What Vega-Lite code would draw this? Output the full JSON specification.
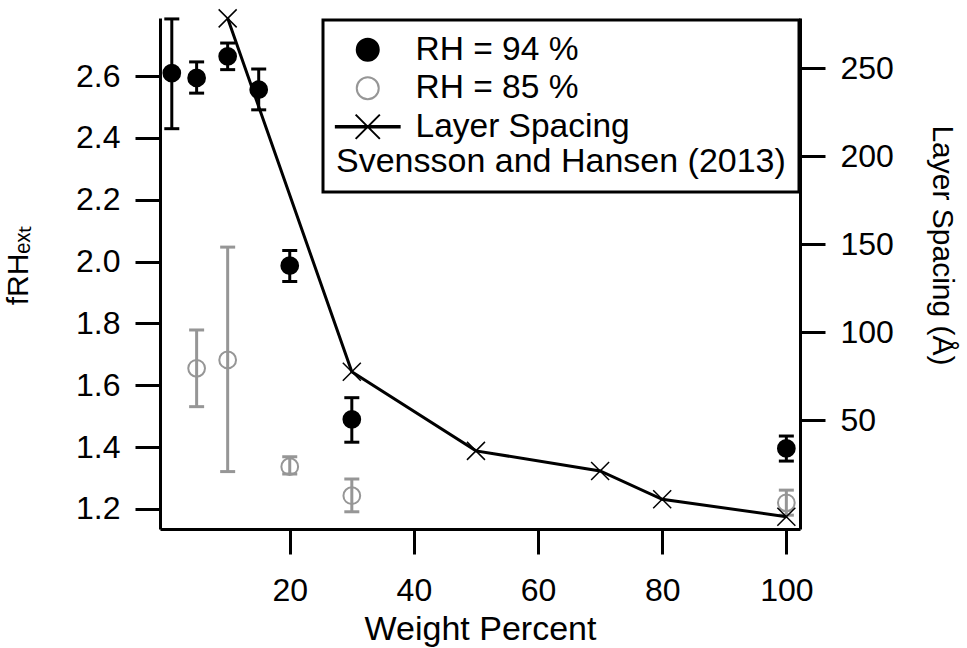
{
  "$schema": "https://vega.github.io/schema/vega-lite/v6.json",
  "width": 640,
  "height": 511,
  "autosize": {"type": "none"},
  "padding": {"left": 160, "top": 18, "right": 167, "bottom": 119},
  "config": {
    "view": {"stroke": null},
    "font": "Liberation Sans",
    "axis": {
      "domainColor": "black", "domainWidth": 3,
      "tickColor": "black", "tickWidth": 3, "tickSize": 25,
      "labelFontSize": 32, "labelColor": "black", "labelFont": "Liberation Sans",
      "titleFont": "Liberation Sans", "titleFontWeight": "normal", "titleColor": "black",
      "grid": false, "labelPadding": 15
    },
    "legend": {
      "padding": 13, "strokeColor": "black", "strokeWidth": 3, "fillColor": "white",
      "labelFontSize": 33.5, "labelFont": "Liberation Sans", "labelColor": "black", "labelLimit": 600,
      "titleFontSize": 34, "titleFontWeight": "normal", "titleColor": "black", "titleFont": "Liberation Sans",
      "titleOrient": "bottom", "titleAnchor": "start", "titleLimit": 700, "titlePadding": 2,
      "symbolSize": 484, "symbolStrokeWidth": 2, "symbolOffset": 15, "labelOffset": 31, "rowPadding": 3.5
    }
  },
  "datasets": {
    "rh": [
      {"series": "RH = 94 %", "wp": 1, "v": 2.61, "lo": 2.43, "hi": 2.785},
      {"series": "RH = 94 %", "wp": 5, "v": 2.594, "lo": 2.545, "hi": 2.646},
      {"series": "RH = 94 %", "wp": 10, "v": 2.664, "lo": 2.621, "hi": 2.707},
      {"series": "RH = 94 %", "wp": 15, "v": 2.556, "lo": 2.491, "hi": 2.623},
      {"series": "RH = 94 %", "wp": 20, "v": 1.987, "lo": 1.936, "hi": 2.036},
      {"series": "RH = 94 %", "wp": 30, "v": 1.49, "lo": 1.416, "hi": 1.56},
      {"series": "RH = 94 %", "wp": 100, "v": 1.396, "lo": 1.355, "hi": 1.436},
      {"series": "RH = 85 %", "wp": 5, "v": 1.655, "lo": 1.531, "hi": 1.779},
      {"series": "RH = 85 %", "wp": 10, "v": 1.682, "lo": 1.321, "hi": 2.047},
      {"series": "RH = 85 %", "wp": 20, "v": 1.337, "lo": 1.313, "hi": 1.369},
      {"series": "RH = 85 %", "wp": 30, "v": 1.243, "lo": 1.191, "hi": 1.297},
      {"series": "RH = 85 %", "wp": 100, "v": 1.22, "lo": 1.18, "hi": 1.261}
    ],
    "ls": [
      {"series": "Layer Spacing", "wp": 10, "spacing": 278.4},
      {"series": "Layer Spacing", "wp": 30, "spacing": 77.6},
      {"series": "Layer Spacing", "wp": 50, "spacing": 32.6},
      {"series": "Layer Spacing", "wp": 70, "spacing": 21.2},
      {"series": "Layer Spacing", "wp": 80, "spacing": 5.1},
      {"series": "Layer Spacing", "wp": 100, "spacing": -4.8}
    ]
  },
  "encoding": {
    "x": {"field": "wp", "type": "quantitative", "scale": {"domain": [-0.9, 102.2], "nice": false, "zero": false},
      "axis": {"orient": "bottom", "values": [20, 40, 60, 80, 100], "labelPadding": 21, "title": "Weight Percent", "titleFontSize": 34, "titleX": 320, "titleY": 110, "titleBaseline": "alphabetic", "titleAlign": "center", "labelFlush": false}}
  },
  "layer": [
    {
      "data": {"name": "rh"},
      "layer": [
        {
          "mark": {"type": "rule", "strokeWidth": 3},
          "encoding": {
            "y": {"field": "lo", "type": "quantitative", "scale": {"domain": [1.1353, 2.788], "nice": false, "zero": false},
              "axis": {"orient": "left", "values": [1.2, 1.4, 1.6, 1.8, 2.0, 2.2, 2.4, 2.6], "format": ".1f", "title": "fRHₑₓₜ", "titleFontSize": 30, "titleAngle": 270, "titleX": -142, "titleY": 247, "titleBaseline": "middle", "titleAlign": "center"}},
            "y2": {"field": "hi"},
            "color": {"field": "series", "type": "nominal", "scale": {"domain": ["RH = 94 %", "RH = 85 %"], "range": ["black", "#969696"]}, "legend": null}
          }
        },
        {
          "mark": {"type": "tick", "orient": "horizontal", "size": 15, "thickness": 3, "opacity": 1},
          "encoding": {
            "y": {"field": "hi", "type": "quantitative", "scale": {"domain": [1.1353, 2.788], "nice": false, "zero": false},
              "axis": {"orient": "left", "values": [1.2, 1.4, 1.6, 1.8, 2.0, 2.2, 2.4, 2.6], "format": ".1f", "title": "fRHₑₓₜ", "titleFontSize": 30, "titleAngle": 270, "titleX": -142, "titleY": 247, "titleBaseline": "middle", "titleAlign": "center"}},
            "color": {"field": "series", "type": "nominal", "legend": null}
          }
        },
        {
          "mark": {"type": "tick", "orient": "horizontal", "size": 15, "thickness": 3, "opacity": 1},
          "encoding": {
            "y": {"field": "lo", "type": "quantitative", "scale": {"domain": [1.1353, 2.788], "nice": false, "zero": false},
              "axis": {"orient": "left", "values": [1.2, 1.4, 1.6, 1.8, 2.0, 2.2, 2.4, 2.6], "format": ".1f", "title": "fRHₑₓₜ", "titleFontSize": 30, "titleAngle": 270, "titleX": -142, "titleY": 247, "titleBaseline": "middle", "titleAlign": "center"}},
            "color": {"field": "series", "type": "nominal", "legend": null}
          }
        },
        {
          "mark": {"type": "point", "size": 280, "strokeWidth": 2, "opacity": 1},
          "encoding": {
            "y": {"field": "v", "type": "quantitative", "scale": {"domain": [1.1353, 2.788], "nice": false, "zero": false},
              "axis": {"orient": "left", "values": [1.2, 1.4, 1.6, 1.8, 2.0, 2.2, 2.4, 2.6], "format": ".1f", "title": "fRHₑₓₜ", "titleFontSize": 30, "titleAngle": 270, "titleX": -142, "titleY": 247, "titleBaseline": "middle", "titleAlign": "center"}},
            "shape": {"field": "series", "type": "nominal",
              "scale": {"domain": ["RH = 94 %", "RH = 85 %", "Layer Spacing"], "range": ["circle", "circle", "M-2.9,-0.06L2.9,-0.06L2.9,0.06L-2.9,0.06ZM-1.1,-1.1L1.1,1.1M-1.1,1.1L1.1,-1.1"]},
              "legend": {"title": "Svensson and Hansen (2013)", "orient": "none", "legendX": 163, "legendY": 2}},
            "fill": {"field": "series", "type": "nominal",
              "scale": {"domain": ["RH = 94 %", "RH = 85 %", "Layer Spacing"], "range": ["black", "transparent", "black"]},
              "legend": {"title": "Svensson and Hansen (2013)", "orient": "none", "legendX": 163, "legendY": 2}},
            "stroke": {"field": "series", "type": "nominal",
              "scale": {"domain": ["RH = 94 %", "RH = 85 %", "Layer Spacing"], "range": ["black", "#969696", "black"]},
              "legend": {"title": "Svensson and Hansen (2013)", "orient": "none", "legendX": 163, "legendY": 2}}
          }
        }
      ]
    },
    {
      "data": {"name": "ls"},
      "layer": [
        {
          "mark": {"type": "line", "color": "black", "strokeWidth": 3},
          "encoding": {
            "y": {"field": "spacing", "type": "quantitative", "scale": {"domain": [-11.8, 278.6], "nice": false, "zero": false},
              "axis": {"orient": "right", "values": [50, 100, 150, 200, 250], "labelPadding": 15, "title": "Layer Spacing (Å)", "titleFontSize": 30, "titleAngle": 90, "titleX": 141, "titleY": 227, "titleBaseline": "middle", "titleAlign": "center"}}
          }
        },
        {
          "mark": {"type": "point", "shape": "M-1,-1L1,1M-1,1L1,-1", "size": 324, "stroke": "black", "strokeWidth": 1.5, "filled": false, "opacity": 1},
          "encoding": {
            "y": {"field": "spacing", "type": "quantitative", "scale": {"domain": [-11.8, 278.6], "nice": false, "zero": false},
              "axis": {"orient": "right", "values": [50, 100, 150, 200, 250], "labelPadding": 15, "title": "Layer Spacing (Å)", "titleFontSize": 30, "titleAngle": 90, "titleX": 141, "titleY": 227, "titleBaseline": "middle", "titleAlign": "center"}}
          }
        }
      ]
    }
  ],
  "resolve": {"scale": {"y": "independent"}}
}
